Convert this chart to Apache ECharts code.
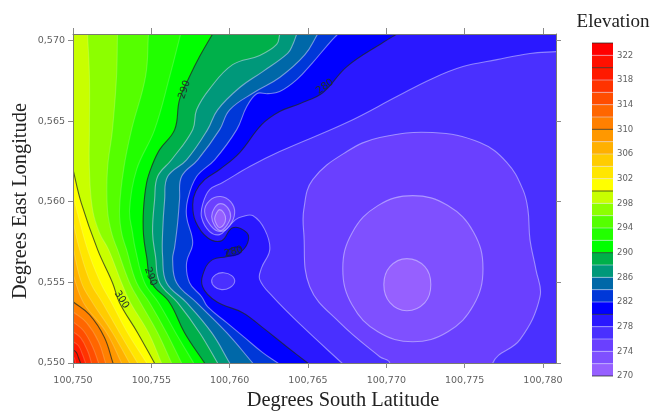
<!DOCTYPE html>
<html>
<head>
<meta charset="utf-8">
<style>html,body{margin:0;padding:0;background:#fff}#chart{width:654px;height:412px;filter:blur(0.5px)}</style>
<script src="https://cdn.jsdelivr.net/npm/echarts@6/dist/echarts.min.js"></script>
</head>
<body>
<div id="chart"></div>
<script>
// Contours: [longitude - 100750, latitude*1000 - 550]
const xTicks = [100750, 100755, 100760, 100765, 100770, 100775, 100780];
const yTicks = [550, 555, 560, 565, 570];
const elevationTicks = [270, 274, 278, 282, 286, 290, 294, 298, 302, 306, 310, 314, 318, 322];

const c280 = [[20.67,20.4],[19.78,19.87],[17.48,18.38],[15.94,16.76],[14.47,16.08],[13.19,15.59],[12.04,14.78],[10.64,13.05],[9.36,12],[8.4,11.37],[7.83,10.63],[7.64,9.82],[7.83,8.76],[8.59,7.77],[9.49,7.58],[10.19,8.39],[11.09,8.08],[11.15,7.46],[10.64,6.84],[9.81,6.59],[8.91,6.41],[8.4,5.79],[8.27,4.73],[9.17,3.8],[10.83,3.12],[12.11,2.19],[13.64,1.01],[14.98,0]];
const c282 = [[16.9,20.4],[16.39,19.87],[15.3,18.63],[14.28,17.57],[13.19,16.83],[12.43,16.7],[11.73,16.7],[11.09,15.9],[10.45,14.47],[9.04,12.6],[7.89,11.56],[7.32,10.13],[7.25,9.08],[7.64,7.46],[7.25,6.22],[7.44,4.98],[8.21,4.11],[8.59,3.49],[9.81,2.5],[10.96,1.57],[12.11,0.64],[13.07,0]];
const c284 = [[15.62,20.4],[14.79,19.1],[13.19,17.7],[11.6,16.8],[10,15.7],[9.36,14.47],[7.96,12.6],[6.93,11.56],[6.8,10.13],[6.68,8.7],[6.49,7.2],[6.36,6.4],[6.61,4.98],[7.89,3.74],[9.81,1.88],[11.47,0]];
const c286 = [[14.28,20.4],[14.03,19.75],[13.7,19.2],[12.11,18.07],[10.64,17.08],[9.23,15.7],[8.59,14.47],[7.25,12.6],[6.04,11.56],[5.85,10.13],[5.72,8.08],[5.72,6.6],[5.97,4.98],[7.25,3.74],[8.85,1.88],[10,0]];
const c288 = [[13.2,20.4],[13,19.75],[11.92,19.07],[10.19,18.5],[8.72,17],[7.89,15.7],[7.64,14.47],[6.29,12.6],[5.4,11.56],[5.21,10.13],[5.08,8.08],[5.27,6.6],[5.53,4.98],[6.68,3.74],[8.08,1.88],[9.23,0]];
const c290 = [[8.91,20.4],[8.08,19],[7.44,17.76],[6.8,16.33],[6.49,14.47],[5.53,13.23],[5.02,12.18],[4.7,11.18],[4.5,9.51],[4.5,7.96],[4.7,6.6],[5.02,4.98],[6.17,3.74],[7.12,1.88],[8.4,0]];
const c292 = [[6.87,20.4],[6.17,17.76],[5.21,14.47],[4.06,11.99],[3.61,9.51],[3.8,8.08],[3.99,7.03],[4.57,4.98],[5.46,3.74],[6.55,1.88],[7.7,0]];
const c294 = [[4.82,20.4],[4.63,17.76],[3.74,14.47],[3.23,11.99],[2.97,9.51],[3.1,8.08],[3.42,7.03],[4.06,4.98],[4.89,3.74],[5.97,1.88],[6.93,0]];
const c296 = [[2.84,20.4],[2.78,17.76],[2.52,14.47],[2.2,11.99],[2.2,9.51],[2.46,8.08],[2.84,7.03],[3.61,4.98],[4.31,3.74],[5.4,1.88],[6.29,0]];
const c298 = [[0.93,20.4],[1.05,17.76],[1.05,14.47],[1.05,11.99],[1.25,9.51],[1.69,8.08],[2.27,7.03],[3.1,4.98],[3.67,3.74],[4.82,1.88],[5.65,0]];
const c300 = [[0,12],[0.52,9.94],[1.57,7.03],[2.52,4.98],[2.97,3.74],[4.12,1.88],[5.2,0]];
const c302 = [[0,10.38],[0.93,7.03],[1.76,4.98],[2.46,3.74],[3.48,1.88],[4.7,0]];
const c304 = [[0,8.77],[0.42,7.03],[1.12,4.98],[1.88,3.74],[2.97,1.88],[4.12,0]];
const c306 = [[0,7.15],[0.54,4.98],[1.25,3.74],[2.52,1.88],[3.61,0]];
const c308 = [[0,5.48],[0.67,3.74],[2.14,1.88],[3.1,0]];
const c310 = [[0,3.8],[1.05,3],[2,1.6],[2.55,0]];
const c312 = [[0,3.18],[0.86,2.5],[1.63,1.32],[2.08,0]];
const c314 = [[0,2.56],[0.67,2],[1.25,1.01],[1.63,0]];
const c316 = [[0,1.94],[0.48,1.57],[0.93,0.76],[1.18,0]];
const c318 = [[0,1.32],[0.35,1.07],[0.61,0.51],[0.8,0]];
const c320 = [[0,0.83],[0.22,0.64],[0.35,0.33],[0.48,0]];
const c322 = [[0,0.39],[0.1,0.27],[0.16,0]];

const c278 = [[30.83,19.31],[29.17,19.19],[27.06,18.81],[24.89,18.38],[22.78,17.57],[20.67,16.52],[17.48,14.91],[13.19,13.11],[11.28,12.18],[9.55,11.19],[8.72,10.75],[8.27,9.82],[8.21,9.01],[8.72,8.15],[9.36,7.96],[9.87,8.39],[10.38,8.89],[10.83,9.08],[11.47,9.14],[12.24,8.27],[12.56,7.03],[12.04,5.91],[11.92,5.17],[12.75,4.11],[14.66,2.25],[17.16,0]];
const c276 = [[20.22,0],[19.58,0.39],[17.03,2.5],[15.11,4.73],[14.73,8.08],[14.73,9.51],[15.3,11.37],[17.48,13.11],[19.58,13.98],[22.97,14.29],[25.97,13.67],[27.7,12.43],[28.72,10.75],[29.04,9.51],[29.17,7.65],[29.55,5.79],[29.81,4.11],[28.53,1.45],[26.8,0],[26.8,-3],[20.22,-3]];
const c274 = [[26.17,5.85],[25.57,3.59],[23.93,1.94],[21.69,1.32],[19.46,1.94],[17.82,3.59],[17.22,5.85],[17.82,8.08],[19.46,9.76],[21.69,10.38],[23.93,9.76],[25.57,8.11]];
const c272 = [[19.84,4.86],[20.23,5.97],[21.31,6.47],[22.46,5.97],[22.84,4.86],[22.46,3.74],[21.31,3.24],[20.23,3.74]];

const ringA276 = [[8.4,9.39],[8.72,10.07],[9.42,10.32],[10.06,10],[10.32,9.32],[10,8.52],[9.42,8.15],[8.79,8.52]];
const ringB274 = [[8.85,9.08],[9.04,9.63],[9.42,9.88],[9.87,9.63],[10.06,9.08],[9.81,8.52],[9.42,8.21],[9.04,8.52]];
const ringC272 = [[9.04,8.95],[9.17,9.32],[9.36,9.51],[9.62,9.32],[9.74,8.95],[9.62,8.58],[9.36,8.39],[9.17,8.58]];
const ringD278 = [[8.85,5.11],[9.11,5.48],[9.62,5.6],[10.13,5.42],[10.32,5.04],[10,4.67],[9.49,4.55],[9.04,4.73]];
const spot282 = [[9.81,6.9],[10.19,7.15],[10.7,7.15],[10.7,6.84],[10.25,6.66],[9.87,6.66]];

const contourLabels = [[7.12,16.95,'290',72],[4.95,5.36,'290',-70],[3.1,3.93,'300',-58],[16.07,17.14,'280',35],[10.25,6.9,'280',15]];

const bandFloors = [270,272,274,276,278,280,282,284,286,288,290,292,294,296,298,300,302,304,306,308,310,312,314,316,318,320,322];
const bandColors = ['#9660ff','#7f50ff','#6a40ff','#4a30ff','#2a18ff','#0000ff','#0038d8','#0068a8','#00987a','#00b04a','#00ff00','#22ff00','#55ff00','#8cff00','#c8ff00','#ffff00','#ffe600','#ffcc00','#ffb000','#ff9800','#ff8000','#ff6600','#ff4d00','#ff3300','#ff1a00','#ff1000','#ff0000'];
const colorOf = v => bandColors[bandFloors.indexOf(v)];
const DARK = 'rgba(30,40,30,0.72)';
const LIGHT = 'rgba(225,225,255,0.5)';
const FAINT = 'rgba(240,255,220,0.2)';

function ext(a, b) {
  const dx = a[0]-b[0], dy = a[1]-b[1], d = Math.hypot(dx, dy) || 1;
  return [a[0]+dx/d*1.2, a[1]+dy/d*1.2];
}
function high(p) { const n=p.length; return [ext(p[0],p[1]),...p,ext(p[n-1],p[n-2]),[-8,-8],[-8,30]]; }
function low(p) { const n=p.length; return [ext(p[0],p[1]),...p,ext(p[n-1],p[n-2]),[40,-8],[40,30]]; }

const layers = [
  [high(c280),280,DARK],[high(c282),282,LIGHT],[high(c284),284,LIGHT],[high(c286),286,LIGHT],[high(c288),288,LIGHT],
  [high(c290),290,DARK],[high(c292),292,FAINT],[high(c294),294,FAINT],[high(c296),296,FAINT],[high(c298),298,FAINT],
  [high(c300),300,DARK],[high(c302),302,FAINT],[high(c304),304,FAINT],[high(c306),306,FAINT],[high(c308),308,FAINT],
  [high(c310),310,DARK],[high(c312),312,FAINT],[high(c314),314,FAINT],[high(c316),316,FAINT],[high(c318),318,FAINT],
  [high(c320),320,DARK],[high(c322),322,FAINT],
  [low(c278),276,LIGHT],[c276,274,LIGHT],[c274,272,LIGHT],[c272,270,LIGHT],
  [ringA276,274,LIGHT],[ringB274,272,LIGHT],[ringC272,270,LIGHT],[ringD278,276,LIGHT],
  [spot282,280,'rgba(0,0,90,0.5)']
];

const renderContour = (params, api) => {
  const l = layers[params.dataIndex];
  const pts = l[0].map(p => api.coord([100750+p[0], 550+p[1]]));
  const fill = l[0] === spot282 ? '#0a0ac8' : colorOf(l[1]);
  return {type:'polygon', shape:{points:pts, smooth:0.4}, style:{fill, stroke:l[2], lineWidth:1.1}};
};
const renderLabel = (params, api) => {
  const l = contourLabels[params.dataIndex];
  const c = api.coord([100750+l[0], 550+l[1]]);
  return {type:'text', x:c[0], y:c[1], rotation:l[3]*Math.PI/180,
    style:{text:l[2], align:'center', verticalAlign:'middle', fill:'#20302a', font:'10px "DejaVu Sans"'}};
};
const renderBand = (params, api) => {
  const v = bandFloors[params.dataIndex];
  const a = api.coord([0, v]), b = api.coord([1, v+2]);
  const strong = v % 10 === 0;
  const kids = [
    {type:'rect', shape:{x:a[0], y:b[1], width:b[0]-a[0], height:a[1]-b[1]}, style:{fill:bandColors[params.dataIndex]}},
    {type:'line', shape:{x1:a[0], y1:a[1], x2:b[0], y2:a[1]}, style:{stroke: strong ? DARK : LIGHT, lineWidth:1}}
  ];
  if (v === 322) kids.push({type:'line', shape:{x1:a[0], y1:b[1], x2:b[0], y2:b[1]}, style:{stroke:DARK, lineWidth:1}});
  return {type:'group', children:kids};
};

const tickLabel = {color:'#5f5f5f', fontFamily:'DejaVu Sans', fontSize:9.5};
const edge = {lineStyle:{color:'#7a7a72', width:1}};
const ticks = {show:true, length:5, inside:false, lineStyle:{color:'#8a8a8a', width:1}};

const option = {
  animation:false,
  backgroundColor:'#fff',
  grid:[
    {left:73, top:34, width:483, height:329, show:true, backgroundColor:colorOf(278), borderWidth:0},
    {left:592, top:43, width:21, height:333, show:false}
  ],
  xAxis:[
    {gridIndex:0, type:'value', min:xTicks[0], max:100780.83, position:'bottom', z:5,
     axisLine:edge, axisTick:{...ticks, customValues:xTicks}, splitLine:{show:false},
     axisLabel:{...tickLabel, margin:13, customValues:xTicks, showMinLabel:true, showMaxLabel:true, formatter:v=>'100,'+(v-100000)}},
    {gridIndex:0, type:'value', min:xTicks[0], max:100780.83, position:'top', z:5,
     axisLine:edge, axisTick:{...ticks, length:6, customValues:xTicks}, axisLabel:{show:false}, splitLine:{show:false}},
    {gridIndex:1, type:'value', min:0, max:1, show:false}
  ],
  yAxis:[
    {gridIndex:0, type:'value', min:yTicks[0], max:570.4, position:'left', z:5,
     axisLine:edge, axisTick:{...ticks, customValues:yTicks}, splitLine:{show:false},
     axisLabel:{...tickLabel, margin:8, customValues:yTicks, formatter:v=>'0,'+v}},
    {gridIndex:0, type:'value', min:yTicks[0], max:570.4, position:'right', z:5,
     axisLine:edge, axisTick:{...ticks, customValues:yTicks}, axisLabel:{show:false}, splitLine:{show:false}},
    {gridIndex:1, type:'value', min:270, max:324, position:'right',
     axisLine:{show:false}, axisTick:{show:false}, splitLine:{show:false},
     axisLabel:{color:'#5f5f5f', fontFamily:'DejaVu Sans', fontSize:8.5, margin:4, customValues:elevationTicks}}
  ],
  series:[
    {type:'custom', coordinateSystem:'cartesian2d', xAxisIndex:0, yAxisIndex:0, clip:true, silent:true,
     renderItem:renderContour, data:layers.map(()=>[100750,550])},
    {type:'custom', coordinateSystem:'cartesian2d', xAxisIndex:0, yAxisIndex:0, clip:true, silent:true, z:3,
     renderItem:renderLabel, data:contourLabels.map(l=>[100750+l[0],550+l[1]])},
    {type:'custom', coordinateSystem:'cartesian2d', xAxisIndex:2, yAxisIndex:2, silent:true,
     renderItem:renderBand, data:bandFloors.map(v=>[0,v])}
  ],
  graphic:[
    {type:'text', x:613, y:22, style:{text:'Elevation', align:'center', verticalAlign:'middle', fill:'#222', font:'19px "Liberation Serif"'}},
    {type:'text', x:343, y:401, style:{text:'Degrees South Latitude', align:'center', verticalAlign:'middle', fill:'#222', font:'20.4px "Liberation Serif"'}},
    {type:'text', x:21, y:201, rotation:Math.PI/2, style:{text:'Degrees East Longitude', align:'center', verticalAlign:'middle', fill:'#222', font:'20.4px "Liberation Serif"'}}
  ]
};
echarts.init(document.getElementById('chart')).setOption(option);
</script>
</body>
</html>
